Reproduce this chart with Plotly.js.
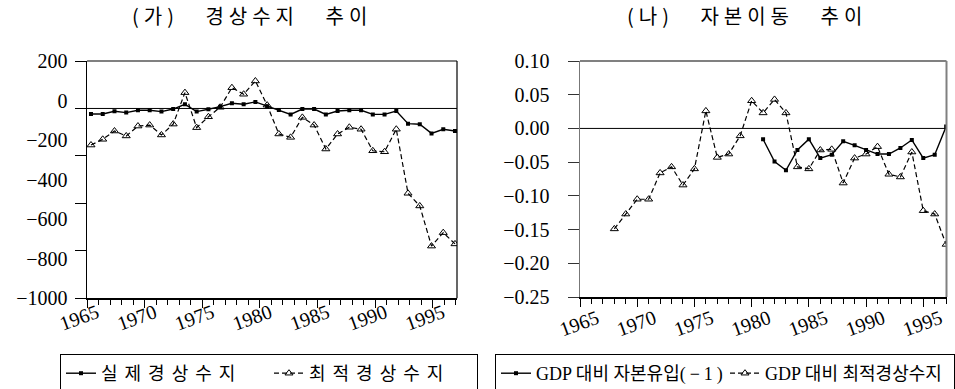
<!DOCTYPE html>
<html>
<head>
<meta charset="utf-8">
<script src="https://cdn.plot.ly/plotly-3.0.1.min.js"></script>
<style>html,body{margin:0;padding:0;background:#fff;}#chart{width:955px;height:389px;}</style>
</head>
<body>
<div id="chart"></div>
<script>
// ---------- data ----------
const yearsLeft = [1965,1966,1967,1968,1969,1970,1971,1972,1973,1974,1975,1976,1977,1978,1979,1980,
                   1981,1982,1983,1984,1985,1986,1987,1988,1989,1990,1991,1992,1993,1994,1995,1996];
const actualCA = [-68,-68,-54,-61,-49,-49,-56,-43,-19,-56,-44,-31,-14,-19,-7,-29,
                  -48,-70,-43,-43,-70,-53,-49,-49,-70,-70,-53,-117,-120,-166,-145,-154];
const optimalCA = [-225,-196,-154,-179,-129,-124,-174,-119,40,-137,-82,-34,65,32,99,-23,
                   -169,-186,-85,-124,-245,-169,-135,-145,-254,-259,-145,-469,-533,-736,-668,-725];

const yearsInflow = [1981,1982,1983,1984,1985,1986,1987,1988,1989,1990,1991,1992,1993,1994,1995,1996,1997];
const capitalInflow = [-0.016,-0.049,-0.062,-0.032,-0.016,-0.044,-0.039,-0.019,-0.025,-0.032,-0.038,-0.038,-0.029,-0.017,-0.044,-0.039,0.003];
const yearsOptRatio = [1968,1969,1970,1971,1972,1973,1974,1975,1976,1977,1978,1979,1980,1981,1982,1983,
                       1984,1985,1986,1987,1988,1989,1990,1991,1992,1993,1994,1995,1996,1997];
const optimalCARatio = [-0.149,-0.127,-0.105,-0.105,-0.066,-0.057,-0.084,-0.060,0.026,-0.043,-0.038,-0.011,0.041,0.023,0.043,0.023,
                        -0.057,-0.060,-0.032,-0.031,-0.081,-0.044,-0.038,-0.027,-0.068,-0.072,-0.035,-0.122,-0.127,-0.172];

const yearTicks = [1965,1970,1975,1980,1985,1990,1995];
const yearTickText = ['1965','1970','1975','1980','1985','1990','1995'];
const leftYTicks = [200,0,-200,-400,-600,-800,-1000];
const leftYTickText = ['200','0','\u2212200','\u2212400','\u2212600','\u2212800','\u22121000'];
const rightYTicks = [0.10,0.05,0.00,-0.05,-0.10,-0.15,-0.20,-0.25];
const rightYTickText = ['0.10','0.05','0.00','\u22120.05','\u22120.10','\u22120.15','\u22120.20','\u22120.25'];

const titleLeft = '(가) 경상수지 추이';
const titleRight = '(나) 자본이동 추이';
const nameActual = '실제경상수지';
const nameOptimal = '최적경상수지';
const nameInflowHead = 'GDP 대비 자본유입';
const nameInflowTail = '(\u22121)';
const nameOptRatio = 'GDP 대비 최적경상수지';

// ---------- styling ----------
const FONT = '"Liberation Serif", "Noto Sans CJK KR", serif';
const W = 955, H = 389;
const L = {x0: 87, x1: 457, y0: 61, y1: 298.3};
const R = {x0: 580, x1: 946.5, y0: 61, y1: 297};
const dx = (a,b) => [a/W, b/W];
const dy = (top,bot) => [1 - bot/H, 1 - top/H];
// letter-spaced rendering of a text: words get charPx, the spaces between them get spacePx
function spaced(t, charPx, spacePx) {
  return t.split(' ').map(w => '<span style="letter-spacing:' + charPx + 'px">' + w + '</span>')
          .join('<span style="letter-spacing:' + spacePx + 'px"> </span>');
}

function solidStyle() {
  return {mode: 'lines+markers', line: {color: '#000', width: 1.4},
          marker: {symbol: 'square', size: 4, color: '#000'}};
}
function dashStyle() {
  return {mode: 'lines+markers', line: {color: '#000', width: 1.2, dash: '5px,3px'},
          marker: {symbol: 'triangle-up-open', size: 7, color: '#000', line: {width: 1, color: '#000'}}};
}

const traces = [
  // empty anchor trace so that the tick axis pair (x, y) forms a real subplot
  {x: [], y: [], xaxis: 'x', yaxis: 'y', type: 'scatter', mode: 'lines', showlegend: false, hoverinfo: 'skip'},
  Object.assign({x: yearsLeft, y: actualCA, name: spaced(nameActual, 7, 7), xaxis: 'x3', yaxis: 'y', legend: 'legend'}, solidStyle()),
  Object.assign({x: yearsLeft, y: optimalCA, name: spaced(nameOptimal, 7, 7), xaxis: 'x3', yaxis: 'y', legend: 'legend'}, dashStyle()),
  Object.assign({x: yearsInflow, y: capitalInflow, name: nameInflowHead + '<span style="letter-spacing:4px">' + nameInflowTail + '</span>', xaxis: 'x2', yaxis: 'y2', legend: 'legend2'}, solidStyle()),
  Object.assign({x: yearsOptRatio, y: optimalCARatio, name: nameOptRatio, xaxis: 'x2', yaxis: 'y2', legend: 'legend2'}, dashStyle())
];

function xAxis(domain, anchor, range, standoff, shift) {
  return {
    domain: domain, anchor: anchor, range: range,
    tickmode: 'array', tickvals: yearTicks, ticktext: yearTickText,
    tickangle: -20, ticks: 'outside', ticklen: 8, tickcolor: '#000', tickwidth: 1,
    minor: {ticks: 'outside', ticklen: 5, tickmode: 'linear', tick0: 1965, dtick: 1, tickcolor: '#000', tickwidth: 1},
    showline: true, linecolor: '#000', linewidth: 1.5,
    showgrid: false, zeroline: false,
    tickfont: {family: FONT, size: 20, color: '#000'},
    ticklabelshift: shift, ticklabelstandoff: standoff
  };
}

const layout = {
  width: W, height: H,
  margin: {l: 0, r: 0, t: 0, b: 0, autoexpand: false},
  paper_bgcolor: '#fff', plot_bgcolor: '#fff',
  font: {family: FONT, color: '#000'},
  showlegend: true,
  xaxis: xAxis(dx(L.x0, L.x1), 'y', [1965, 1997.1], -14, 10),
  xaxis3: {overlaying: 'x', anchor: 'y', range: [1964.66, 1996.17], visible: false, showgrid: false, zeroline: false},
  yaxis: {
    domain: dy(L.y0, L.y1), anchor: 'x', range: [-1000, 200],
    tickmode: 'array', tickvals: leftYTicks, ticktext: leftYTickText,
    ticks: 'outside', ticklen: 1, tickwidth: 1, tickcolor: 'rgba(0,0,0,0)',
    minor: {ticks: 'outside', ticklen: 11, tickmode: 'linear', tick0: -40, dtick: 240, tickcolor: '#000', tickwidth: 1},
    showline: true, linecolor: '#000', linewidth: 1.5,
    showgrid: false, zeroline: false,
    tickfont: {family: FONT, size: 20, color: '#000'}, ticklabelstandoff: 13
  },
  xaxis2: xAxis(dx(R.x0, R.x1), 'y2', [1965, 1997.03], -7, 17),
  yaxis2: {
    domain: dy(R.y0, R.y1), anchor: 'x2', range: [-0.25, 0.10],
    tickmode: 'array', tickvals: rightYTicks, ticktext: rightYTickText,
    ticks: 'outside', ticklen: 11, tickcolor: '#333', tickwidth: 1,
    showline: true, linecolor: '#777', linewidth: 1.5,
    showgrid: false, zeroline: false,
    tickfont: {family: FONT, size: 20, color: '#000'}, ticklabelstandoff: 14
  },
  shapes: [
    {type: 'line', xref: 'x domain', yref: 'y', x0: 0, x1: 1, y0: -40, y1: -40, line: {color: '#000', width: 1}},
    {type: 'line', xref: 'x2 domain', yref: 'y2', x0: 0, x1: 1, y0: 0, y1: 0, line: {color: '#000', width: 1}},
    {type: 'line', xref: 'x domain', yref: 'y domain', x0: 0, x1: 1, y0: 1, y1: 1, line: {color: '#808080', width: 2}},
    {type: 'line', xref: 'x domain', yref: 'y domain', x0: 1, x1: 1, y0: 0, y1: 1, line: {color: '#000', width: 1.2}},
    {type: 'line', xref: 'x2 domain', yref: 'y2 domain', x0: 0, x1: 1, y0: 1, y1: 1, line: {color: '#808080', width: 2}},
    {type: 'line', xref: 'x2 domain', yref: 'y2 domain', x0: 1, x1: 1, y0: 0, y1: 1, line: {color: '#808080', width: 2}}
  ],
  annotations: [
    {text: spaced(titleLeft, 5, 22), xref: 'paper', yref: 'paper', x: 252/W, y: 1 - 15/H, xanchor: 'center', yanchor: 'middle', showarrow: false,
     font: {family: '"Noto Sans CJK KR", sans-serif', size: 20, color: '#000'}},
    {text: spaced(titleRight, 5, 22), xref: 'paper', yref: 'paper', x: 747/W, y: 1 - 15/H, xanchor: 'center', yanchor: 'middle', showarrow: false,
     font: {family: '"Noto Sans CJK KR", sans-serif', size: 20, color: '#000'}}
  ],
  legend: {
    orientation: 'h', x: 60/W, xanchor: 'left', y: 1 - 354/H, yanchor: 'top',
    bordercolor: '#000', borderwidth: 1, bgcolor: '#fff',
    font: {family: FONT, size: 18, color: '#000'}, entrywidth: 163, itemclick: false, traceorder: 'normal'
  },
  legend2: {
    orientation: 'h', x: 495/W, xanchor: 'left', y: 1 - 354/H, yanchor: 'top',
    bordercolor: '#000', borderwidth: 1, bgcolor: '#fff',
    font: {family: FONT, size: 18, color: '#000'}, entrywidth: 184, itemclick: false, traceorder: 'normal'
  }
};

Plotly.newPlot('chart', traces, layout, {staticPlot: true, displayModeBar: false});
</script>
</body>
</html>
